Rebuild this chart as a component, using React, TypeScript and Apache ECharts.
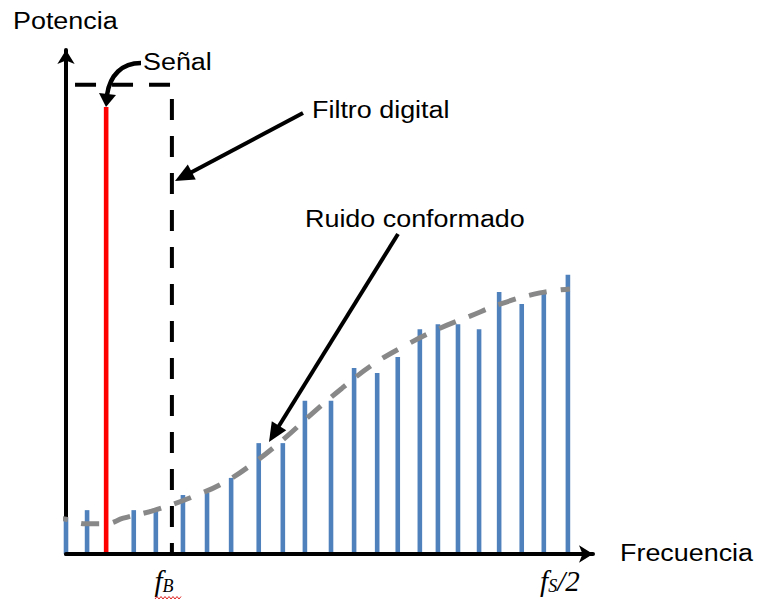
import React, { useEffect, useRef } from "react";
import * as echarts from "echarts";

// Frequency axis: 0 = DC, 1 = fs/2. Power axis: arbitrary units 0..100.
const noiseFreq = [0, 0.042, 0.135, 0.179, 0.233, 0.281, 0.329, 0.384, 0.432, 0.476, 0.528, 0.574, 0.62, 0.661, 0.705, 0.741, 0.781, 0.823, 0.863, 0.908, 0.952, 1.0];
const noisePower = [7.1, 8.7, 8.7, 8.7, 11.7, 12.1, 15.1, 22.0, 22.0, 30.4, 30.4, 36.9, 35.9, 39.1, 44.6, 45.6, 45.6, 44.6, 52.0, 49.6, 52.0, 55.4];

const signalFreq = [0.08];
const signalPower = [88.7];

const filterFreq = [0.018, 0.211, 0.211];
const filterPower = [93.1, 93.1, 0];

const shapeFreq = [-0.032, 0, 0.038, 0.08, 0.114, 0.177, 0.251, 0.317, 0.38, 0.436, 0.492, 0.55, 0.61, 0.671, 0.741, 0.805, 0.871, 0.944, 1.004];
const shapePower = [7.3, 6.9, 6.0, 6.0, 7.1, 8.7, 11.3, 14.3, 18.5, 23.0, 28.0, 32.9, 37.5, 41.1, 44.6, 47.2, 49.8, 51.8, 52.6];

const tickValues = [0.211, 1.0];
const tickMain = ["f", "f"];
const tickSub = ["B", "S"];
const tickTail = ["", "/2"];

const yName = "Potencia";
const xName = "Frecuencia";
const signalLabel = "Señal";
const filterLabel = "Filtro digital";
const noiseLabel = "Ruido conformado";

function arrow(x1: number, y1: number, x2: number, y2: number, len: number, half: number) {
  const dx = x2 - x1;
  const dy = y2 - y1;
  const L = Math.sqrt(dx * dx + dy * dy);
  const ux = dx / L;
  const uy = dy / L;
  const bx = x2 - ux * len;
  const by = y2 - uy * len;
  const nx = -uy;
  const ny = ux;
  return [
    {
      type: "line",
      shape: { x1, y1, x2: bx + ux * 2, y2: by + uy * 2 },
      style: { stroke: "#000", lineWidth: 4 },
      z: 10,
    },
    {
      type: "polygon",
      shape: {
        points: [
          [x2, y2],
          [bx + nx * half, by + ny * half],
          [bx - nx * half, by - ny * half],
        ],
      },
      style: { fill: "#000" },
      z: 10,
    },
  ];
}

const sansFont = "'Liberation Sans', Arial, sans-serif";
const serifFont = "'Liberation Serif', 'Times New Roman', serif";

function label(text: string, x: number, y: number) {
  return {
    type: "text",
    x,
    y,
    scaleX: 1.17,
    z: 10,
    style: {
      text,
      fontFamily: sansFont,
      fontSize: 23,
      fill: "#000",
      align: "left",
      verticalAlign: "middle",
    },
  };
}

export default function App() {
  const ref = useRef<HTMLDivElement>(null);

  useEffect(() => {
    if (!ref.current) return;
    const chart = echarts.init(ref.current, undefined, { renderer: "svg" });

    const barData: any[] = noiseFreq.map((f, i) => [f, noisePower[i]]);
    signalFreq.forEach((f, i) => {
      barData.push({ value: [f, signalPower[i]], itemStyle: { color: "#FF0000" } });
    });

    const squiggle: number[][] = [];
    for (let x = 155, k = 0; x <= 181; x += 2, k++) squiggle.push([x, k % 2 ? 596.5 : 599]);

    chart.setOption({
      animation: false,
      backgroundColor: "#fff",
      grid: { left: 66, right: 166, top: 50, bottom: 48, containLabel: false },
      xAxis: {
        type: "value",
        min: 0,
        max: 1.05,
        z: 5,
        axisLine: {
          show: true,
          symbol: ["none", "arrow"],
          symbolSize: [13, 14],
          lineStyle: { color: "#000", width: 4 },
        },
        axisTick: { show: false },
        splitLine: { show: false },
        axisLabel: {
          customValues: tickValues,
          margin: 12,
          padding: [0, 16, 0, 0],
          formatter: (v: number) => {
            let idx = 0;
            tickValues.forEach((t, i) => {
              if (Math.abs(t - v) < Math.abs(tickValues[idx] - v)) idx = i;
            });
            return `{f|${tickMain[idx]}}{s|${tickSub[idx]}}` + (tickTail[idx] ? `{f|${tickTail[idx]}}` : "");
          },
          rich: {
            f: { fontFamily: serifFont, fontStyle: "italic", fontSize: 29, color: "#000", verticalAlign: "bottom" },
            s: { fontFamily: serifFont, fontStyle: "italic", fontSize: 18, color: "#000", verticalAlign: "bottom" },
          },
        },
      },
      yAxis: {
        type: "value",
        min: 0,
        max: 100,
        z: 1,
        axisLine: {
          show: true,
          symbol: ["none", "arrow"],
          symbolSize: [13, 14],
          lineStyle: { color: "#000", width: 4 },
        },
        axisTick: { show: false },
        splitLine: { show: false },
        axisLabel: { show: false },
      },
      series: [
        {
          type: "bar",
          data: barData,
          barWidth: 4.6,
          itemStyle: { color: "#4F81BD" },
          z: 2,
        },
        {
          type: "line",
          data: shapeFreq.map((f, i) => [f, shapePower[i]]),
          smooth: 0.4,
          symbol: "none",
          clip: false,
          lineStyle: { color: "#888888", width: 5, type: [18, 14], cap: "butt" },
          z: 4,
        },
        {
          type: "line",
          data: filterFreq.map((f, i) => [f, filterPower[i]]),
          symbol: "none",
          clip: false,
          lineStyle: { color: "#000", width: 4, type: [21, 16], cap: "butt" },
          z: 4,
        },
      ],
      graphic: [
        label(yName, 13, 21),
        label(signalLabel, 143, 62),
        label(filterLabel, 312, 110),
        label(noiseLabel, 305, 219),
        label(xName, 620, 553),
        ...arrow(303, 113, 175, 181, 19, 8.5),
        ...arrow(398, 234, 269, 442, 19, 8.5),
        {
          type: "bezierCurve",
          shape: { x1: 141, y1: 63, cpx1: 122, cpy1: 63, cpx2: 110, cpy2: 75, x2: 107, y2: 95 },
          style: { stroke: "#000", lineWidth: 4.5, fill: null },
          z: 10,
        },
        {
          type: "polygon",
          shape: { points: [[99, 93], [116, 95], [106, 107]] },
          style: { fill: "#000" },
          z: 10,
        },
        {
          type: "polyline",
          shape: { points: squiggle },
          style: { stroke: "#E02020", lineWidth: 1, fill: null },
          z: 10,
        },
      ],
    });

    return () => chart.dispose();
  }, []);

  return (
    <div
      ref={ref}
      style={{ position: "fixed", left: 0, top: 0, width: 759, height: 602, background: "#fff" }}
    />
  );
}
